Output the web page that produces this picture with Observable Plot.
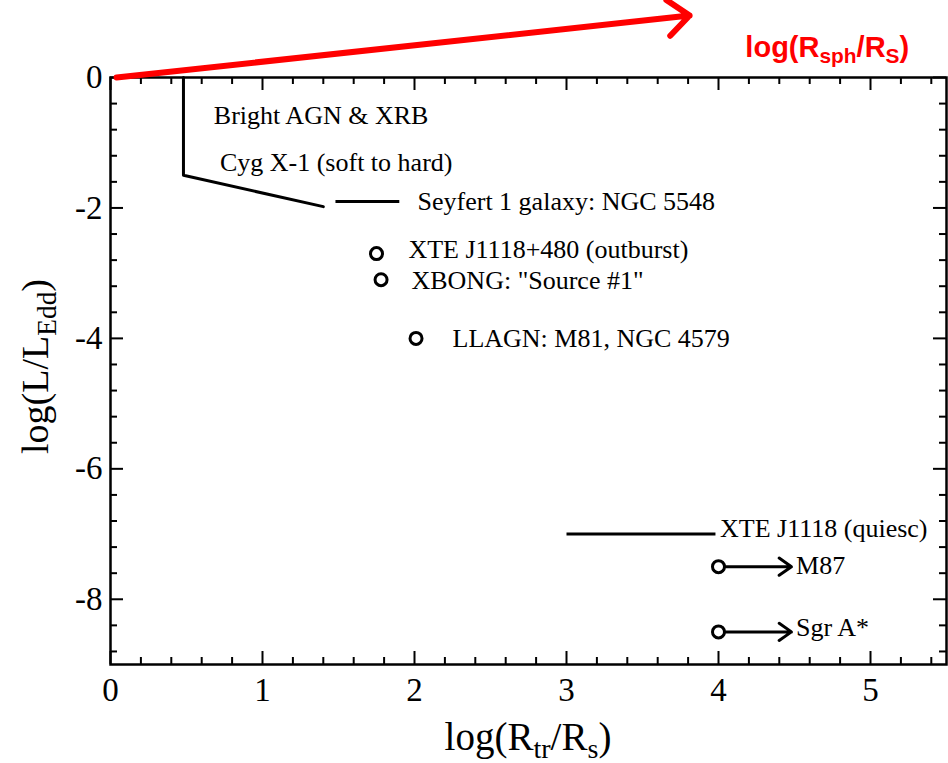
<!DOCTYPE html>
<html>
<head>
<meta charset="utf-8">
<script src="https://cdn.jsdelivr.net/npm/d3@7"></script>
<script src="https://cdn.jsdelivr.net/npm/@observablehq/plot@0.6"></script>
<style>
  body { margin: 0; background: #fff; }
</style>
</head>
<body>
<div id="chart"></div>
<script>
// Cyg X-1 track (soft to hard state)
const cygX = [0.48, 0.48, 1.40];
const cygY = [0, -1.5, -1.98];

// Sources with a range of truncation radii (horizontal bars)
const barNames = ["Seyfert 1 galaxy: NGC 5548", "XTE J1118 (quiesc)"];
const barX1 = [1.48, 3.0];
const barX2 = [1.90, 3.98];
const barY = [-1.9, -7.0];

// Single-point sources
const ptNames = ["XTE J1118+480 (outburst)", "XBONG: \"Source #1\"", "LLAGN: M81, NGC 4579"];
const ptX = [1.75, 1.78, 2.01];
const ptY = [-2.7, -3.1, -4.0];

// Lower limits (arrows pointing to larger radii)
const limNames = ["M87", "Sgr A*"];
const limX = [4.0, 4.0];
const limXTo = [4.48, 4.48];
const limY = [-7.5, -8.5];

// Annotation text, anchored at its left edge
const noteText = ["Bright AGN & XRB", "Cyg X-1 (soft to hard)", "Seyfert 1 galaxy: NGC 5548",
  "XTE J1118+480 (outburst)", "XBONG: \"Source #1\"", "LLAGN: M81, NGC 4579",
  "XTE J1118 (quiesc)", "M87", "Sgr A*"];
const noteX = [0.68, 0.72, 2.02, 1.96, 1.98, 2.25, 4.01, 4.51, 4.51];
const noteY = [-0.58, -1.30, -1.91, -2.64, -3.11, -4.0, -6.92, -7.48, -8.44];

// Spherical-radius direction arrow and its label
const sphX = [0.04, 3.81];
const sphY = [0, 0.95];
const sphLabelX = 4.18;
const sphLabelY = 0.30;

// Axis ticks
const xMajor = [0, 1, 2, 3, 4, 5];
const yMajor = [0, -2, -4, -6, -8];
const xMinor = d3.range(0, 5.5, 0.2).map(v => +v.toFixed(1)).filter(v => !xMajor.includes(v));
const yMinor = d3.range(0, -9, -0.4).map(v => +v.toFixed(1)).filter(v => !yMajor.includes(v));

const W = 948, H = 763;
const mL = 110, mR = 2, mT = 77, mB = 99;
const FW = W - mL - mR, FH = H - mT - mB;
const serif = "Liberation Serif, Times New Roman, serif";

const bars = barNames.map((n, i) => ({n, x1: barX1[i], x2: barX2[i], y: barY[i]}));
const pts = ptNames.map((n, i) => ({n, x: ptX[i], y: ptY[i]}));
const lims = limNames.map((n, i) => ({n, x1: limX[i], x2: limXTo[i], y: limY[i]}));
const notes = noteText.map((t, i) => ({t, x: noteX[i], y: noteY[i]}));
const cyg = cygX.map((x, i) => ({x, y: cygY[i]}));

const chart = Plot.plot({
  width: W,
  height: H,
  marginLeft: mL,
  marginRight: mR,
  marginTop: mT,
  marginBottom: mB,
  style: {fontFamily: serif, fontSize: "26px", background: "#fff", color: "#000", overflow: "visible"},
  x: {domain: [0, 5.5], label: null},
  y: {domain: [-9, 0], label: null},
  marks: [
    // inward ticks on all four sides
    Plot.tickX(xMajor, {x: d => d, insetTop: FH - 13, strokeWidth: 2}),
    Plot.tickX(xMinor, {x: d => d, insetTop: FH - 7, strokeWidth: 2}),
    Plot.tickX(xMajor, {x: d => d, insetBottom: FH - 13, strokeWidth: 2}),
    Plot.tickX(xMinor, {x: d => d, insetBottom: FH - 7, strokeWidth: 2}),
    Plot.tickY(yMajor, {y: d => d, insetRight: FW - 13, strokeWidth: 2}),
    Plot.tickY(yMinor, {y: d => d, insetRight: FW - 7, strokeWidth: 2}),
    Plot.tickY(yMajor, {y: d => d, insetLeft: FW - 13, strokeWidth: 2}),
    Plot.tickY(yMinor, {y: d => d, insetLeft: FW - 7, strokeWidth: 2}),
    Plot.axisX({ticks: xMajor, tickSize: 0, tickPadding: 13, tickFormat: d => String(d), fontSize: 33, label: null}),
    Plot.axisY({ticks: yMajor, tickSize: 0, tickPadding: 8, tickFormat: d => String(d), fontSize: 33, label: null}),
    Plot.frame({strokeWidth: 2.5}),
    // data
    Plot.line(cyg, {x: "x", y: "y", strokeWidth: 3}),
    Plot.link(bars, {x1: "x1", x2: "x2", y1: "y", y2: "y", strokeWidth: 3}),
    Plot.arrow(lims, {x1: "x1", x2: "x2", y1: "y", y2: "y", strokeWidth: 3, headLength: 7.5, headAngle: 70, insetStart: 6}),
    Plot.dot(pts, {x: "x", y: "y", r: 6, stroke: "#000", strokeWidth: 3, fill: "none"}),
    Plot.dot(lims, {x: "x1", y: "y", r: 6, stroke: "#000", strokeWidth: 3, fill: "none"}),
    Plot.text(notes, {x: "x", y: "y", text: "t", textAnchor: "start", fontSize: 26, fill: "#000"}),
    Plot.arrow([0], {x1: () => sphX[0], y1: () => sphY[0], x2: () => sphX[1], y2: () => sphY[1],
      stroke: "#ff0000", strokeWidth: 6, headLength: 7, headAngle: 80})
  ]
});

document.getElementById("chart").appendChild(chart);

// Axis titles and the red label carry subscripts, so they are written with tspans.
const sx = chart.scale("x"), sy = chart.scale("y");
const svg = d3.select(chart);
function richText(parts, {x, y, rotate = 0, anchor = "middle", size, family, weight = "normal", fill = "#000"}) {
  const t = svg.append("text")
    .attr("transform", `translate(${x},${y})` + (rotate ? ` rotate(${rotate})` : ""))
    .attr("text-anchor", anchor)
    .attr("font-size", size)
    .attr("font-family", family)
    .attr("font-weight", weight)
    .attr("fill", fill);
  for (const [str, sub] of parts) {
    const s = t.append("tspan").text(str);
    if (sub) s.attr("baseline-shift", "-28%").attr("font-size", size * 0.72);
  }
}
const frameMidX = (sx.apply(0) + sx.apply(5.5)) / 2;
const frameMidY = (sy.apply(0) + sy.apply(-9)) / 2;
richText([["log(R"], ["tr", true], ["/R"], ["s", true], [")"]],
  {x: frameMidX, y: H - 13, size: 39, family: serif});
richText([["log(L/L"], ["Edd", true], [")"]],
  {x: 48, y: frameMidY - 4, rotate: -90, size: 38, family: serif});
richText([["log(R"], ["sph", true], ["/R"], ["S", true], [")"]],
  {x: sx.apply(sphLabelX), y: sy.apply(sphLabelY), anchor: "start", size: 29,
   family: "Liberation Sans, Arial, sans-serif", weight: "bold", fill: "#ff0000"});
</script>
</body>
</html>
